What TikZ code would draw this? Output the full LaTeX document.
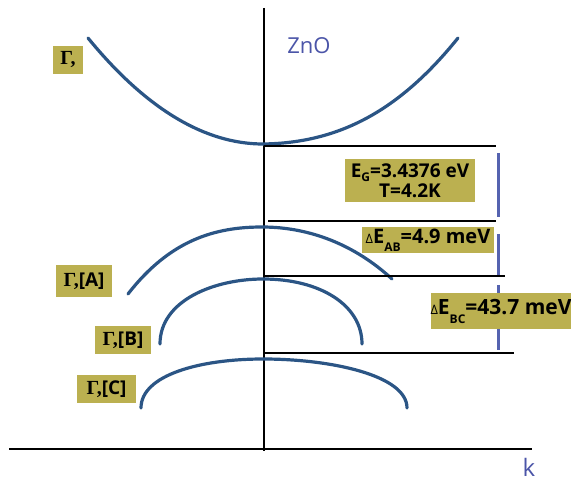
\documentclass[tikz,border=0pt]{standalone}
\usepackage{fontspec}
\setmainfont{Open Sans}
\newfontfamily\gammafont{Liberation Serif}
\definecolor{ZnOBand}{HTML}{2B5585}
\definecolor{ZnOOlive}{HTML}{BBB050}
\definecolor{ZnOBar}{HTML}{5563B0}
\definecolor{ZnOText}{HTML}{4B55A8}
\newcommand{\gam}{{\gammafont\bfseries\fontsize{20}{20}\selectfont Γ,}}
\newcommand{\lowsub}[2]{\raisebox{-#1pt}{\fontsize{12}{12}\selectfont #2}}
\newcommand{\dlt}{{\fontsize{13}{13}\selectfont\mdseries Δ}}

\begin{document}
\begin{tikzpicture}[x=1pt,y=-1pt,
    axis/.style={black,line width=2.4pt},
    band/.style={ZnOBand,line width=3.2pt,line cap=round},
    level/.style={black,line width=2.6pt},
    gap/.style={ZnOBar,line width=3pt},
    tag/.style={fill=ZnOOlive,inner sep=0pt,align=center,font=\bfseries\fontsize{19}{20}\selectfont}]
    \useasboundingbox (0,0) rectangle (571,481);
    % axes
    \coordinate (top) at (264,8);
    \coordinate (bot) at (264,451);
    \coordinate (left) at (9,449);
    \coordinate (right) at (532,449);
    \draw[axis] (top) -- (bot);
    \draw[axis] (left) -- (right);
    \node[text=ZnOText,font=\fontsize{24}{24}\selectfont] (k) at (529,467) {k};
    \node[text=ZnOText,font=\fontsize{22}{22}\selectfont] (zno) at (309,46) {ZnO};
    % bands
    \draw[band] (88,38) .. controls (146,109) and (205,144) .. (263,144)
      .. controls (340,143) and (400,110) .. (458,38);
    \draw[band] (128,294) .. controls (170,240) and (215,227) .. (262,227)
      .. controls (310,227) and (355,245) .. (392,279);
    \draw[band] (160,344) .. controls (160,300) and (215,279) .. (263,279)
      .. controls (320,279) and (362,305) .. (362,344);
    \draw[band] (141,408) .. controls (141,375) and (200,359) .. (263,359)
      .. controls (330,359) and (407,375) .. (407,408);
    % levels
    \foreach \y/\a/\b in {146/264/496,221/268/496,276/264/505,353/264/514}
      \draw[level] (\a,\y) -- (\b,\y);
    % gaps
    \foreach \t/\b in {153/217,234/275,285/350}
      \draw[gap] (498,\t) -- (498,\b);
    % labels
    \node[tag,minimum width=30pt,minimum height=28pt] (g0) at (68,60) {\gam};
    \node[tag,minimum width=56pt,minimum height=32pt] (ga) at (84,281) {\gam[A]};
    \node[tag,minimum width=56pt,minimum height=28pt] (gb) at (123,340) {\gam[B]};
    \node[tag,minimum width=59pt,minimum height=28pt] (gc) at (106.5,389) {\gam[C]};
    \node[tag,minimum width=130pt,minimum height=43pt] (eg) at (410,180.5)
      {E\lowsub{4}{G}=3.4376 eV\\T=4.2K};
    \node[tag,minimum width=132pt,minimum height=26pt,font=\bfseries\fontsize{20}{20}\selectfont] (ab) at (428,240)
      {\dlt E\lowsub{8}{AB}=4.9 meV};
    \node[tag,minimum width=140pt,minimum height=36pt,font=\bfseries\fontsize{21}{21}\selectfont] (bc) at (501,311)
      {\dlt E\lowsub{9}{BC}=43.7 meV};
\end{tikzpicture}
\end{document}
